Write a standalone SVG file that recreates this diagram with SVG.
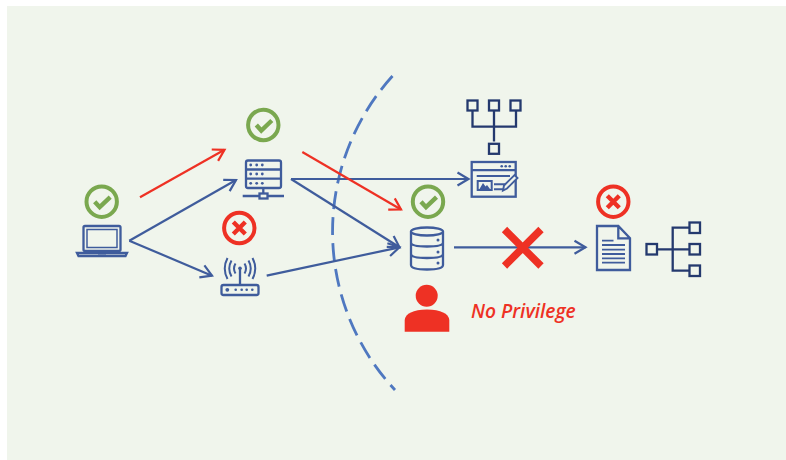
<svg xmlns="http://www.w3.org/2000/svg" xmlns:xlink="http://www.w3.org/1999/xlink" width="786" height="460" viewBox="0 0 786 460">
<style>
.b{fill:none;stroke:#3f5c9c;stroke-width:2.3}
.n{fill:none;stroke:#24396e;stroke-width:2.3}
.i{fill:none;stroke:#3f5c9c;stroke-width:2}
.d{fill:#3f5c9c}
.c{fill:none;stroke:#3f5c9c;stroke-width:2.2}
.r{fill:none;stroke:#ee3124;stroke-width:2.2}
.lbl{font-family:"Open Sans","Liberation Sans",sans-serif;font-style:italic;font-weight:600;font-size:19.2px;fill:#ee3124}
</style>
<defs>
<marker id="ab" markerUnits="userSpaceOnUse" markerWidth="18" markerHeight="18" refX="14" refY="9" orient="auto"><path d="M3 2.5L14 9L3 15.5" fill="none" stroke="#3f5c9c" stroke-width="2.2"/></marker>
<marker id="ar" markerUnits="userSpaceOnUse" markerWidth="18" markerHeight="18" refX="14" refY="9" orient="auto"><path d="M3 2.5L14 9L3 15.5" fill="none" stroke="#ee3124" stroke-width="2.2"/></marker>
<g id="ok"><circle r="15.2" fill="none" stroke="#7aa84f" stroke-width="4"/><path d="M-7 0L-2 5.5L8.5 -4.5" fill="none" stroke="#7aa84f" stroke-width="4.4"/></g>
<g id="no"><circle r="15.2" fill="none" stroke="#ee3124" stroke-width="4"/><path d="M-6 -6L6 6M6 -6L-6 6" fill="none" stroke="#ee3124" stroke-width="4.4"/></g>
</defs>
<rect width="786" height="460" fill="#ffffff"/>
<rect x="7" y="6" width="779" height="454" fill="#f0f5ec"/>
<g id="connectors">
<path d="M392.5 76A232 232 0 0 0 395 390" fill="none" stroke="#4f78c0" stroke-width="2.8" stroke-dasharray="18 8"/>
<path class="r" d="M140 197.3L224.5 149.8" marker-end="url(#ar)"/>
<path class="c" d="M129.3 240.7L236 180" marker-end="url(#ab)"/>
<path class="c" d="M129.3 240.7L212 275.7" marker-end="url(#ab)"/>
<path class="c" d="M291 179H468.5" marker-end="url(#ab)"/>
<path class="c" d="M291 179L399.5 247.3" marker-end="url(#ab)"/>
<path class="c" d="M266.7 275.7L399.5 247.3" marker-end="url(#ab)"/>
<path class="r" d="M302.3 152L401 209.5" marker-end="url(#ar)"/>
<path class="c" d="M454 247.3H585.5" marker-end="url(#ab)"/>
<path d="M504.5 229.5L541 266M541 229.5L504.5 266" fill="none" stroke="#ee3124" stroke-width="7.5"/>
</g>
<g id="laptop">
<use xlink:href="#ok" href="#ok" x="101.7" y="201.7"/>
<rect class="b" x="83.5" y="226" width="37" height="25" rx="1.5"/>
<rect class="i" x="87" y="229.5" width="30" height="18" style="stroke-width:1.5"/>
<path class="b" d="M77 253H127L125.5 256H78.5Z"/>
<path class="d" d="M98 252.5H106V254.5H98Z"/>
</g>
<g id="server">
<use xlink:href="#ok" href="#ok" x="263.3" y="125"/>
<rect class="b" x="246" y="160.5" width="35" height="27.5" rx="2"/>
<path class="b" d="M246 169.5H281M246 178.7H281M263.3 188V193.5M242.7 196H259.5M267.5 196H284"/>
<rect class="b" x="259.5" y="193.5" width="8" height="5"/>
<g class="d"><circle cx="250.7" cy="165" r="1.4"/><circle cx="256.7" cy="165" r="1.4"/><circle cx="262.3" cy="165" r="1.4"/><circle cx="250.7" cy="174" r="1.4"/><circle cx="256.7" cy="174" r="1.4"/><circle cx="262.3" cy="174" r="1.4"/><circle cx="250.7" cy="183.3" r="1.4"/><circle cx="256.7" cy="183.3" r="1.4"/><circle cx="262.3" cy="183.3" r="1.4"/></g>
</g>
<g id="router">
<use xlink:href="#no" href="#no" x="239.3" y="228"/>
<rect class="b" x="221.5" y="285" width="37" height="10" rx="2"/>
<path class="b" d="M240 268.5V285"/>
<circle class="d" cx="240" cy="268.3" r="1.8"/>
<path class="i" d="M235.5 263.5Q232.5 268.5 235.5 273.5M244.5 263.5Q247.5 268.5 244.5 273.5M231.5 260.5Q227 268.5 231.5 276.5M248.5 260.5Q253 268.5 248.5 276.5M227.5 258Q222 268.5 227.5 279M252.5 258Q258 268.5 252.5 279"/>
<g class="d"><circle cx="227.3" cy="289.8" r="1.9"/><circle cx="235.7" cy="289.8" r="1.3"/><circle cx="241.7" cy="289.8" r="1.3"/><circle cx="246.7" cy="289.8" r="1.3"/><circle cx="252.3" cy="289.8" r="1.3"/></g>
</g>
<g id="database">
<use xlink:href="#ok" href="#ok" x="428" y="201.7"/>
<ellipse class="b" cx="427" cy="231.5" rx="16" ry="4"/>
<path class="b" d="M411 231.5V265Q411 269.5 427 269.5Q443 269.5 443 265V231.5M411 242.5Q411 246.5 427 246.5Q443 246.5 443 242.5M411 254Q411 258 427 258Q443 258 443 254"/>
<g class="d"><circle cx="438" cy="240" r="1.5"/><circle cx="438" cy="252" r="1.5"/><circle cx="438" cy="263" r="1.5"/></g>
</g>
<g id="tree-top">
<rect class="n" x="467.5" y="100.5" width="10" height="10"/>
<rect class="n" x="489" y="100.5" width="10" height="10"/>
<rect class="n" x="510.5" y="100.5" width="10" height="10"/>
<rect class="n" x="489" y="143.8" width="10" height="10"/>
<path class="n" d="M472.5 111V126.7H516V111M494 111V141.5"/>
</g>
<g id="form">
<rect class="b" x="471.7" y="162" width="44" height="34.7"/>
<path class="b" d="M471.7 170.2H515.7"/>
<g class="d"><circle cx="501.7" cy="166.3" r="1.3"/><circle cx="505.7" cy="166.3" r="1.3"/><circle cx="509.7" cy="166.3" r="1.3"/></g>
<path class="i" d="M476.7 176H510M494 184.3H506.5M494 189.2H503"/>
<rect class="i" x="477.7" y="181" width="14" height="9"/>
<path class="d" d="M479.5 189L483 183L485.5 186.5L487 185L490 189Z"/>
<path d="M503 190.5L504 185.5L514.5 175L517.5 178L507 188.5Z" fill="#f0f5ec" stroke="#3f5c9c" stroke-width="1.9"/>
</g>
<g id="document">
<use xlink:href="#no" href="#no" x="613.3" y="201.7"/>
<path class="b" d="M597 226H618.3L630 238.3V270H597ZM618.3 226V238.3H630"/>
<path class="b" d="M602 240.7H613.5M602 245H625M602 249.7H625M602 254H625M602 258.3H625M602 262.7H625" style="stroke-width:1.8"/>
</g>
<g id="tree-right">
<rect class="n" x="646.5" y="244" width="10.5" height="10.5"/>
<rect class="n" x="689.5" y="222.5" width="10.5" height="10.5"/>
<rect class="n" x="689.5" y="244" width="10.5" height="10.5"/>
<rect class="n" x="689.5" y="265.5" width="10.5" height="10.5"/>
<path class="n" d="M689 227.7H672.7V270.7H689M657 249.3H689"/>
</g>
<g id="no-privilege">
<circle cx="426.7" cy="295.7" r="11" fill="#ee3124"/>
<path d="M404.7 331.7V320Q406 310 427 309.5Q448 310 449.3 320V331.7Z" fill="#ee3124"/>
<text class="lbl" x="471" y="317.5">No Privilege</text>
</g>
</svg>
